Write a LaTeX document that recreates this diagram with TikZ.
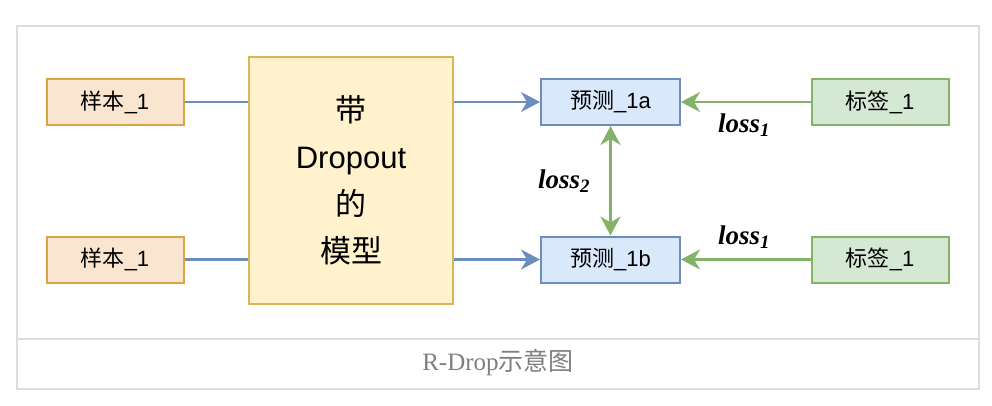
\documentclass[tikz,border=0pt]{standalone}
\usepackage{fontspec}
\setmainfont{Liberation Serif}
\newfontfamily\cjk{Noto Sans CJK SC}
\newfontfamily\hv{Liberation Sans}
\usetikzlibrary{arrows.meta}
\definecolor{frameC}{HTML}{DDDDDD}
\definecolor{orFill}{HTML}{FAE6D0}
\definecolor{orLine}{HTML}{D9A441}
\definecolor{yeFill}{HTML}{FFF2CC}
\definecolor{yeLine}{HTML}{D6B656}
\definecolor{blFill}{HTML}{DAE8FC}
\definecolor{blLine}{HTML}{6C8EBF}
\definecolor{grFill}{HTML}{D5E8D4}
\definecolor{grLine}{HTML}{82B366}
\definecolor{capC}{HTML}{7F7F7F}
\begin{document}
\begin{tikzpicture}[x=1pt,y=-1pt,
  frame/.style={draw=frameC,line width=2pt},
  box/.style={draw,line width=2pt,inner sep=0pt,minimum width=137pt,minimum height=46pt,font=\fontsize{22}{26}\selectfont},
  samp/.style={box,fill=orFill,draw=orLine},
  pred/.style={box,fill=blFill,draw=blLine,minimum width=139pt},
  lab/.style={box,fill=grFill,draw=grLine},
  model/.style={draw=yeLine,fill=yeFill,line width=2pt,minimum width=204pt,minimum height=247pt,align=center,font=\fontsize{31}{47}\selectfont},
  arr/.style={-{Stealth[length=19pt,width=20pt,inset=6pt]}},
  darr/.style={{Stealth[length=19pt,width=20pt,inset=6pt]}-{Stealth[length=19pt,width=20pt,inset=6pt]}},
  bl/.style={draw=blLine,line width=2.2pt},
  gr/.style={draw=grLine,line width=2.2pt},
  loss/.style={font=\fontsize{27}{30}\selectfont\bfseries\itshape}
]
\useasboundingbox (0,0) rectangle (992,406);
\draw[frame] (16.5,26.5) rectangle (979,388.5);
\draw[frame] (16.5,338.5) -- (979,338.5);

\node[samp] (s1) at (115,102) {\cjk 样本\hv\_1};
\node[samp] (s2) at (115,259.5) {\cjk 样本\hv\_1};
\node[model] (m) at (351,180.5) {{\cjk 带}\\{\hv Dropout}\\{\cjk 的}\\{\cjk 模型}};
\node[pred] (pa) at (610.5,102) {\cjk 预测\hv\_1a};
\node[pred] (pb) at (610.5,259.5) {\cjk 预测\hv\_1b};
\node[lab] (la) at (880,102) {\cjk 标签\hv\_1};
\node[lab] (lb) at (880,259.5) {\cjk 标签\hv\_1};

\draw[bl] (s1.east) -- (s1.east -| m.west);
\draw[bl] (s2.east) -- (s2.east -| m.west);
\draw[bl,arr] (m.east |- pa) -- (pa.west);
\draw[bl,arr] (m.east |- pb) -- (pb.west);
\draw[gr,arr] (la.west) -- (pa.east);
\draw[gr,arr] (lb.west) -- (pb.east);
\draw[gr,darr] (pa.south) -- (pb.north);

\node[loss] (l1) at (744,125) {loss\textsubscript{1}};
\node[loss] (l2) at (744,237) {loss\textsubscript{1}};
\node[loss] (l3) at (564,181) {loss\textsubscript{2}};

\node[text=capC,font=\fontsize{25}{28}\selectfont] (cap) at (498,363) {R-Drop{\cjk 示意图}};
\end{tikzpicture}
\end{document}
